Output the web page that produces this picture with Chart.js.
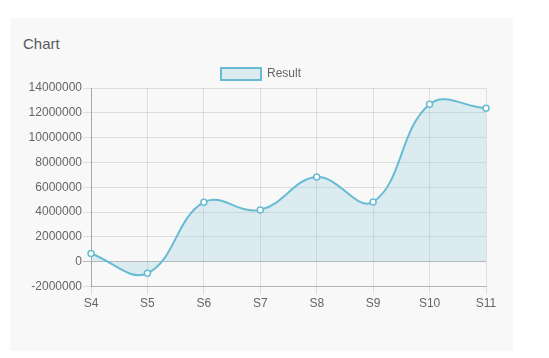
<!DOCTYPE html>
<html>
<head>
<meta charset="utf-8">
<script src="https://cdn.jsdelivr.net/npm/chart.js@4/dist/chart.umd.min.js"></script>
<style>
  html, body { margin: 0; padding: 0; background: #ffffff; width: 549px; height: 358px; overflow: hidden; }
  #card { position: absolute; left: 10px; top: 18px; width: 503px; height: 333px; background: #f8f8f8; }
  #title { position: absolute; left: 13px; top: 17px; font: 15px "Liberation Sans", Arial, sans-serif; color: #5a5a5a; }
  #wrap { position: absolute; left: 0px; top: 37px; width: 503px; height: 296px; }
</style>
</head>
<body>
<div id="card">
  <div id="title">Chart</div>
  <div id="wrap"><canvas id="c" width="503" height="296"></canvas></div>
</div>
<script>
const categories = ["S4", "S5", "S6", "S7", "S8", "S9", "S10", "S11"];
const resultValues = [670000, -930000, 4800000, 4180000, 6830000, 4820000, 12690000, 12370000];
const seriesName = "Result";

const lineColor = "#67bcd4";
const fillColor = "rgba(120,190,215,0.22)";

const legendNudge = {
  id: "legendNudge",
  afterLayout(chart) {
    const lg = chart.legend;
    if (!lg) return;
    lg.left += 4.5; lg.right += 4.5;
    lg.top += 2; lg.bottom += 2;
  }
};

new Chart(document.getElementById("c"), {
  type: "line",
  data: {
    labels: categories,
    datasets: [{
      label: seriesName,
      data: resultValues,
      borderColor: lineColor,
      backgroundColor: fillColor,
      borderWidth: 2,
      fill: "origin",
      tension: 0.4,
      pointRadius: 3,
      pointBorderWidth: 1.5,
      pointBackgroundColor: "#ffffff",
      pointBorderColor: lineColor
    }]
  },
  plugins: [legendNudge],
  options: {
    responsive: false,
    animation: false,
    devicePixelRatio: 1,
    layout: { padding: { left: 17, right: 27, top: 3, bottom: 38 } },
    plugins: {
      legend: {
        display: true,
        labels: {
          boxWidth: 40,
          boxHeight: 12,
          padding: 8,
          color: "#666",
          font: { family: "'Liberation Sans', Arial, sans-serif", size: 12 }
        }
      },
      tooltip: { enabled: false }
    },
    scales: {
      x: {
        offset: false,
        grid: { color: "rgba(0,0,0,0.1)", tickLength: 8 },
        border: { color: "rgba(0,0,0,0.2)" },
        ticks: { color: "#666", padding: 2, maxRotation: 0, font: { family: "'Liberation Sans', Arial, sans-serif", size: 12 } }
      },
      y: {
        min: -2000000,
        max: 14000000,
        afterFit: s => { s.width = 64; },
        grid: {
          tickLength: 8,
          color: ctx => (ctx.tick && ctx.tick.value === 0) ? "rgba(0,0,0,0.25)" : "rgba(0,0,0,0.1)"
        },
        border: { color: "rgba(0,0,0,0.25)" },
        ticks: {
          stepSize: 2000000,
          color: "#666",
          padding: 1,
          callback: v => String(v),
          font: { family: "'Liberation Sans', Arial, sans-serif", size: 12 }
        }
      }
    }
  }
});
</script>
</body>
</html>
